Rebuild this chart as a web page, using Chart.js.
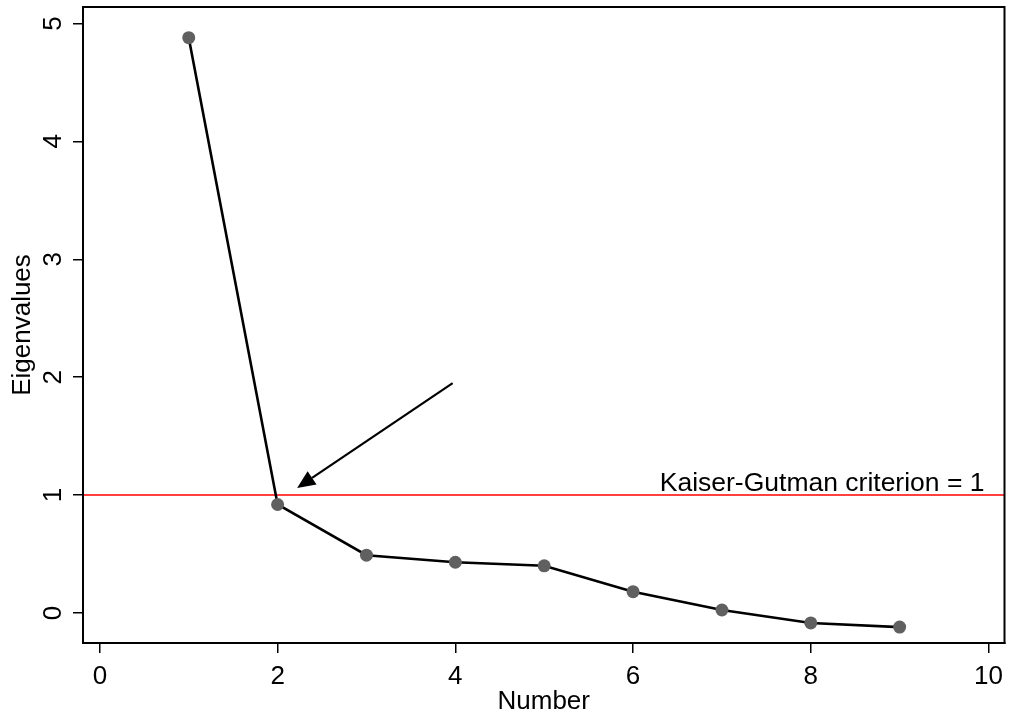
<!DOCTYPE html>
<html>
<head>
<meta charset="utf-8">
<script src="https://cdn.jsdelivr.net/npm/chart.js@4"></script>
<style>
html, body { margin: 0; background: #fff; }
#wrap { width: 1011px; height: 715px; }
</style>
</head>
<body>
<div id="wrap"><canvas id="scree"></canvas></div>
<script>
// scree plot values
const numbers = [1, 2, 3, 4, 5, 6, 7, 8, 9];
const eigenvalues = [4.88, 0.92, 0.49, 0.43, 0.40, 0.18, 0.025, -0.085, -0.12];
const xTicks = [0, 2, 4, 6, 8, 10];
const yTicks = [0, 1, 2, 3, 4, 5];
const criterion = 1;
const criterionLabel = 'Kaiser-Gutman criterion = 1';
const arrowFrom = [3.97, 1.95];
const arrowTo = [2.22, 1.06];

const FONT = '"Liberation Sans", Arial, Helvetica, sans-serif';

// frame, red criterion line, label, arrow and rotated y labels
const extras = {
    id: 'extras',
    beforeDatasetsDraw(chart) {
        const ctx = chart.ctx, a = chart.chartArea;
        const y = chart.scales.y.getPixelForValue(criterion);
        ctx.save();
        ctx.strokeStyle = '#ff0000';
        ctx.lineWidth = 1.5;
        ctx.beginPath();
        ctx.moveTo(a.left, y);
        ctx.lineTo(a.right, y);
        ctx.stroke();
        ctx.fillStyle = '#000';
        ctx.font = '26.5px ' + FONT;
        ctx.textAlign = 'right';
        ctx.textBaseline = 'alphabetic';
        ctx.fillText(criterionLabel, a.right - 20, y - 4);
        ctx.restore();
    },
    afterDraw(chart) {
        const ctx = chart.ctx, a = chart.chartArea;
        const xs = chart.scales.x, ys = chart.scales.y;
        ctx.save();
        // frame
        ctx.strokeStyle = '#000';
        ctx.lineWidth = 2;
        ctx.strokeRect(a.left, a.top, a.right - a.left, a.bottom - a.top);

        // arrow
        const x0 = xs.getPixelForValue(arrowFrom[0]), y0 = ys.getPixelForValue(arrowFrom[1]);
        const x1 = xs.getPixelForValue(arrowTo[0]), y1 = ys.getPixelForValue(arrowTo[1]);
        const ang = Math.atan2(y1 - y0, x1 - x0);
        const len = 18, half = 8;
        const bx = x1 - len * Math.cos(ang), by = y1 - len * Math.sin(ang);
        ctx.lineWidth = 2.2;
        ctx.beginPath();
        ctx.moveTo(x0, y0);
        ctx.lineTo(bx, by);
        ctx.stroke();
        ctx.fillStyle = '#000';
        ctx.beginPath();
        ctx.moveTo(x1, y1);
        ctx.lineTo(bx + half * Math.sin(ang), by - half * Math.cos(ang));
        ctx.lineTo(bx - half * Math.sin(ang), by + half * Math.cos(ang));
        ctx.closePath();
        ctx.fill();

        // y tick labels, rotated like Stata
        ctx.font = '26px ' + FONT;
        ctx.textAlign = 'center';
        ctx.textBaseline = 'middle';
        yTicks.forEach(function (v) {
            ctx.save();
            ctx.translate(54, ys.getPixelForValue(v));
            ctx.rotate(-Math.PI / 2);
            ctx.fillText(String(v), 0, 0);
            ctx.restore();
        });
        ctx.restore();
    }
};

new Chart(document.getElementById('scree'), {
    type: 'scatter',
    data: {
        datasets: [{
            data: numbers.map(function (n, i) { return { x: n, y: eigenvalues[i] }; }),
            showLine: true,
            borderColor: '#000',
            borderWidth: 2.6,
            pointRadius: 6.5,
            pointBackgroundColor: '#606060',
            pointBorderWidth: 0
        }]
    },
    options: {
        responsive: true,
        maintainAspectRatio: false,
        animation: false,
        layout: { padding: { top: 7, right: 1 } },
        plugins: { legend: { display: false }, tooltip: { enabled: false } },
        scales: {
            x: {
                type: 'linear',
                min: -0.19,
                max: 10.18,
                afterBuildTicks: function (s) { s.ticks = xTicks.map(function (v) { return { value: v }; }); },
                afterFit: function (s) { s.height = 72; },
                grid: { drawOnChartArea: false, tickLength: 10, color: '#000', lineWidth: 1.5 },
                border: { display: true, color: '#000', width: 2 },
                ticks: { color: '#000', font: { family: FONT, size: 26, lineHeight: 1.66 }, padding: 2, maxRotation: 0 },
                title: { display: true, text: 'Number', color: '#000', font: { family: FONT, size: 26, lineHeight: 1 }, padding: { top: 0, bottom: 0 } }
            },
            y: {
                min: -0.255,
                max: 5.14,
                afterBuildTicks: function (s) { s.ticks = yTicks.map(function (v) { return { value: v }; }); },
                afterFit: function (s) { s.width = 83; },
                grid: { drawOnChartArea: false, tickLength: 10, color: '#000', lineWidth: 1.5 },
                border: { display: true, color: '#000', width: 2 },
                ticks: { display: false },
                title: { display: true, text: 'Eigenvalues', color: '#000', font: { family: FONT, size: 26, lineHeight: 1 }, padding: { top: 10, bottom: 0 } }
            }
        }
    },
    plugins: [extras]
});
</script>
</body>
</html>
